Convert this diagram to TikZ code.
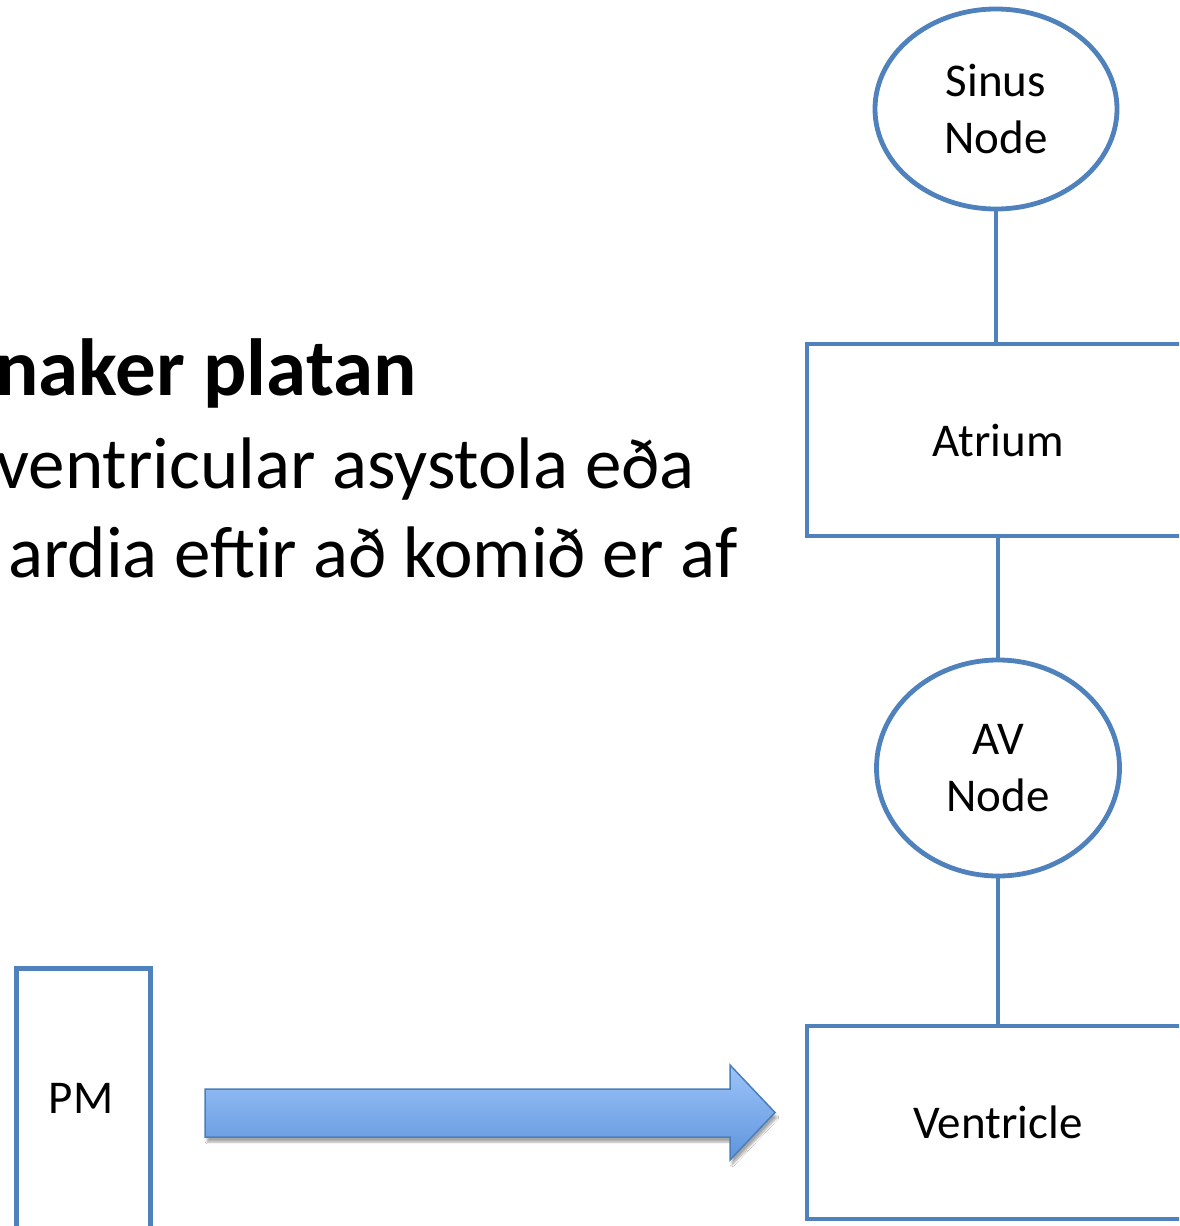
\documentclass[tikz,border=0pt]{standalone}
\usepackage{fontspec}
\setmainfont{Carlito}
\usetikzlibrary{shapes.geometric,shadows.blur}
\definecolor{edgeblue}{HTML}{4F81BD}
\definecolor{arrowtop}{HTML}{9DC3F9}
\definecolor{arrowbot}{HTML}{5E95DC}
\definecolor{arrowline}{HTML}{4A7EBB}
\begin{document}
\begin{tikzpicture}[x=1pt,y=-1pt,
  every node/.style={font=\fontsize{47}{57}\selectfont, align=center, inner sep=0pt},
  oval/.style={ellipse, draw=edgeblue, line width=4.8pt, fill=white},
  chamber/.style={rectangle, draw=edgeblue, line width=4.8pt, fill=white},
  link/.style={draw=edgeblue, line width=4.5pt},
  slidetext/.style={anchor=base east, font=\fontsize{73}{90}\selectfont},
  bigarrow/.style={draw=arrowline, line width=1.5pt, line join=miter,
    top color=arrowtop, bottom color=arrowbot,
    blur shadow={shadow xshift=2pt, shadow yshift=-5pt, shadow opacity=35, shadow blur steps=8}}
]
\useasboundingbox (0,0) rectangle (1179,1226);
\clip (0,0) rectangle (1179,1226);
\fill[white] (0,0) rectangle (1179,1226);

% slide text, partly cut off at the left
\node[slidetext, font=\fontsize{81}{90}\bfseries\selectfont] (title) at (417,395) {naker platan};
\node[slidetext] (line1) at (695,488) {ventricular asystola eða};
\node[slidetext] (line2) at (738,577) {ardia eftir að komið er af};

% conduction chain
\node[oval, minimum width=242, minimum height=200] (sinus) at (996,109) {Sinus\\Node};
\node[chamber, minimum width=382, minimum height=192] (atrium) at (998,440) {Atrium};
\node[oval, minimum width=243, minimum height=216] (av) at (998,768) {AV\\Node};
\node[chamber, minimum width=382, minimum height=193] (ventricle) at (998,1122.5) {Ventricle};

\path[link] (sinus.south) -- (sinus.south |- atrium.north);
\path[link] (atrium.south) -- (av.north);
\path[link] (av.south) -- (ventricle.north);

% pacemaker box
\node[chamber, minimum width=134, minimum height=290, anchor=north west] (pm) at (14,966) {};
\node (pmlabel) at (81,1098) {PM};

% block arrow towards the ventricle
\path[bigarrow] (205,1089) -- (730,1089) -- (730,1065) -- (775,1112.5)
  -- (730,1160) -- (730,1137) -- (205,1137) -- cycle;
\end{tikzpicture}
\end{document}
